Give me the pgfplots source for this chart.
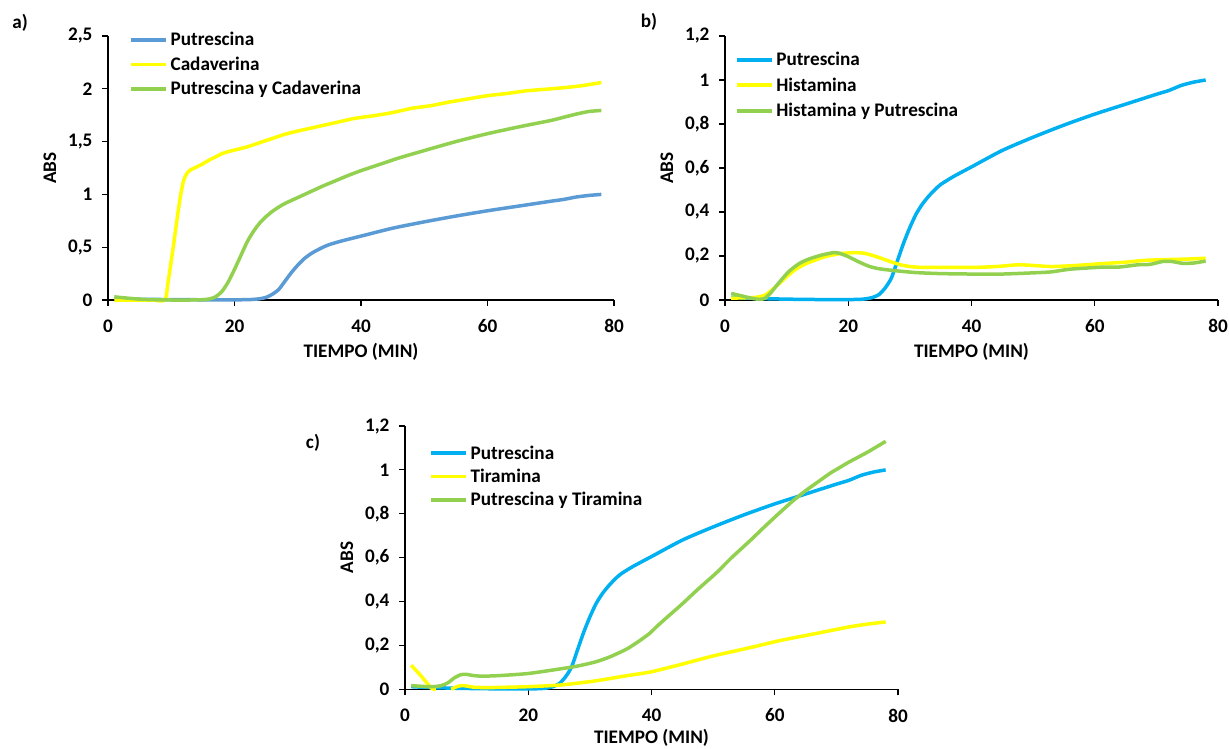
\documentclass[border=0pt]{standalone}
\usepackage{fontspec}
\setmainfont{Carlito}
\usepackage{pgfplots}
\pgfplotsset{compat=1.18}
\usepackage{pgfplotstable}
\newcommand{\myfont}{\fontsize{19.2}{22}\selectfont\bfseries}
\definecolor{pblueA}{HTML}{5B9BD5}
\definecolor{pblue}{HTML}{00B0F0}
\definecolor{pyellow}{HTML}{FFFF00}
\definecolor{pgreen}{HTML}{92D050}

\pgfplotstableread{
t v
1 0.012
4 0.008
8 0.005
12 0.003
16 0.002
20 0.002
22 0.003
23 0.006
24 0.012
25 0.025
26 0.055
27 0.1
28 0.18
29 0.26
30 0.33
31 0.39
32 0.435
33 0.47
34 0.5
35 0.525
37 0.56
40 0.605
45 0.68
50 0.74
55 0.795
60 0.845
65 0.89
70 0.935
72 0.952
74 0.975
76 0.99
78 1.0
}\putr

\pgfplotstableread{
t v
1 0.0
3 0.0
5 0.0
7 0.0
9 0.0
9.5 0.17
10 0.37
10.5 0.58
11 0.8
11.5 1.0
12 1.14
12.5 1.2
13 1.23
14 1.26
15 1.29
16 1.325
17 1.355
18 1.385
19 1.405
20 1.42
22 1.45
24 1.49
26 1.53
28 1.57
30 1.6
33 1.64
36 1.68
39 1.72
42 1.745
45 1.775
48 1.815
51 1.84
54 1.875
57 1.905
60 1.935
63 1.955
66 1.98
69 1.995
72 2.01
75 2.03
78 2.06
}\cadav

\pgfplotstableread{
t v
1 0.03
3 0.018
5 0.008
7 0.003
10 0.0
13 0.0
15 0.003
16 0.01
17 0.03
18 0.08
19 0.17
20 0.29
21 0.42
22 0.55
23 0.65
24 0.73
25 0.79
26 0.84
27 0.88
28 0.915
30 0.97
32 1.025
34 1.08
36 1.13
38 1.18
40 1.225
43 1.285
46 1.345
50 1.415
55 1.5
60 1.575
65 1.64
70 1.7
72 1.73
74 1.76
76 1.785
78 1.795
}\putcad

\pgfplotstableread{
t v
1 0.008
3 0.01
5 0.012
6.5 0.022
7.8 0.05
9 0.08
10.3 0.113
11.5 0.14
13 0.163
14.5 0.18
16 0.195
17.5 0.205
19 0.212
21 0.215
22.5 0.213
24 0.202
25.5 0.188
27 0.173
28.5 0.16
30 0.152
32 0.148
35 0.148
40 0.148
44 0.152
47.5 0.16
50 0.157
53 0.152
57 0.157
61 0.165
65 0.172
68 0.18
72 0.184
75 0.186
78 0.19
}\hista

\pgfplotstableread{
t v
1 0.03
2.5 0.02
4 0.01
5.5 0.003
6.5 0.008
7.5 0.035
8.5 0.07
10.3 0.128
12 0.165
13.5 0.185
15.5 0.203
17.5 0.215
18.5 0.213
20 0.197
21 0.183
22.2 0.167
23.5 0.152
25 0.142
27 0.135
30.8 0.125
35 0.12
40 0.118
45 0.118
50.5 0.124
53 0.128
56 0.14
61 0.149
64 0.15
67 0.16
69 0.162
71 0.175
72.5 0.175
74.2 0.167
76 0.168
78 0.177
}\histput

\pgfplotstableread{
t v
1 0.11
2.7 0.058
4.3 0.005
5 0.0
6.3 nan
7.5 0.0
8.2 0.01
9.1 0.017
10 0.015
11.3 0.009
14 0.008
20 0.012
25.4 0.02
30.8 0.038
36.2 0.063
40 0.08
45 0.115
50 0.152
56 0.19
61 0.223
67 0.256
72 0.284
75 0.297
78 0.307
}\tira

\pgfplotstableread{
t v
1 0.017
3 0.013
4.5 0.012
5.9 0.017
7 0.03
8 0.052
9.1 0.067
10 0.068
11 0.063
12.4 0.06
15 0.062
20 0.072
25.4 0.094
28 0.106
30.8 0.124
33 0.145
35 0.17
36.2 0.187
38 0.22
39.7 0.255
41 0.29
43 0.34
45.1 0.392
47.5 0.455
50.5 0.53
53 0.6
55.9 0.675
58.5 0.745
61 0.81
63 0.86
65 0.905
67 0.945
69 0.985
70.5 1.01
72 1.035
75 1.08
78 1.13
}\puttira

\pgfplotsset{
  myax/.style={
    scale only axis, anchor=south west,
    xmin=0, xmax=80, ymin=0,
    axis lines=left,
    axis line style={-, line width=1.2pt, black},
    tick style={line width=1.2pt, black},
    major tick length=6pt, tick align=outside,
    xtick={0,20,40,60,80},
    clip=false, no marks,
    unbounded coords=jump,
    /pgf/number format/use comma,
    /pgf/number format/assume math mode=true,
    tick label style={font=\myfont},
    xticklabel style={yshift=-10pt},
    yticklabel style={xshift=-6pt},
    label style={font=\myfont},
    xlabel={TIEMPO (MIN)}, ylabel={ABS},
    xlabel style={at={(rel axis cs:0.5,0)}, anchor=center, yshift=-52pt},
    ylabel style={at={(rel axis cs:0,0.5)}, anchor=center, yshift=58pt},
    legend cell align=left,
    legend style={draw=none, fill=none, font=\myfont, anchor=north west,
      at={(rel axis cs:0,1)}, inner sep=0pt, outer sep=0pt, column sep=2.5pt,
      nodes={inner sep=0pt}},
    legend image code/.code={\draw[##1, line width=3.8pt] (0pt,0pt) -- (35pt,0pt);},
    every axis plot/.append style={line width=3.5pt, smooth, tension=0.4},
  }
}

\begin{document}
\begin{tikzpicture}
\useasboundingbox (0pt,0pt) rectangle (1229pt,-749pt);

% panel a
\begin{axis}[myax, at={(108pt,-300pt)}, width=506pt, height=264pt,
  ymax=2.5, ytick={0,0.5,1,1.5,2,2.5},
  legend style={xshift=21.3pt, yshift=3.5pt, row sep=9.5pt}]
\addplot[pblueA] table[x=t,y=v] {\putr};
\addlegendentry{Putrescina}
\addplot[pyellow] table[x=t,y=v] {\cadav};
\addlegendentry{Cadaverina}
\addplot[pgreen] table[x=t,y=v] {\putcad};
\addlegendentry{Putrescina y Cadaverina}
\end{axis}

% panel b
\begin{axis}[myax, at={(725pt,-300pt)}, width=493pt, height=264pt,
  ymax=1.2, ytick={0,0.2,0.4,0.6,0.8,1,1.2},
  legend style={xshift=10pt, yshift=-16.2pt, row sep=10.5pt}]
\addplot[pblue] table[x=t,y=v] {\putr};
\addlegendentry{Putrescina}
\addplot[pyellow] table[x=t,y=v] {\hista};
\addlegendentry{Histamina}
\addplot[pgreen] table[x=t,y=v] {\histput};
\addlegendentry{Histamina y Putrescina}
\end{axis}

% panel c
\begin{axis}[myax, at={(405pt,-689.3pt)}, width=493pt, height=263.3pt,
  ymax=1.2, ytick={0,0.2,0.4,0.6,0.8,1,1.2},
  xlabel style={yshift=3.5pt},
  legend style={xshift=24.3pt, yshift=-19.8pt, row sep=8.3pt}]
\addplot[pblue] table[x=t,y=v] {\putr};
\addlegendentry{Putrescina}
\addplot[pyellow] table[x=t,y=v] {\tira};
\addlegendentry{Tiramina}
\addplot[pgreen] table[x=t,y=v] {\puttira};
\addlegendentry{Putrescina y Tiramina}
\end{axis}

\node[font=\myfont, anchor=center] at (20pt,-23pt) {a)};
\node[font=\myfont, anchor=center] at (649pt,-22pt) {b)};
\node[font=\myfont, anchor=center] at (313pt,-443pt) {c)};
\end{tikzpicture}
\end{document}
